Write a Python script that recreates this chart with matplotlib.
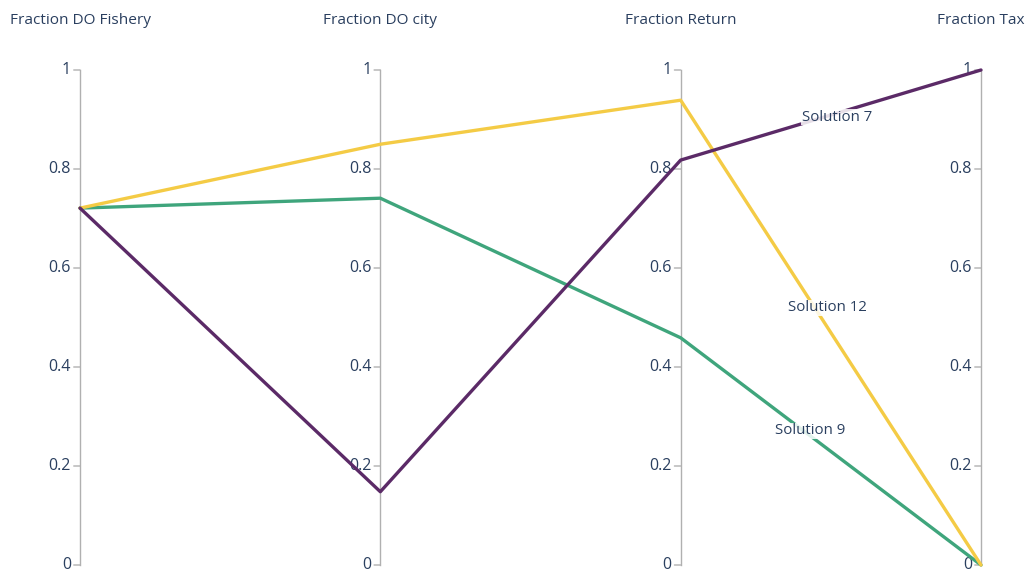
import matplotlib
matplotlib.use("Agg")
import matplotlib.pyplot as plt

dimensions = ["Fraction DO Fishery", "Fraction DO city", "Fraction Return", "Fraction Tax"]
solutions = ["Solution 9", "Solution 12", "Solution 7"]
values = {
    "Solution 9": [0.721, 0.741, 0.459, 0.0],
    "Solution 12": [0.721, 0.850, 0.939, 0.0],
    "Solution 7": [0.721, 0.148, 0.818, 1.0],
}
colors = {"Solution 9": "#3fa57c", "Solution 12": "#f4cb45", "Solution 7": "#5b2a67"}
tick_values = [0, 0.2, 0.4, 0.6, 0.8, 1]
tick_labels = ["0", "0.2", "0.4", "0.6", "0.8", "1"]
# label positions (dimension coordinate, value)
label_pos = {"Solution 7": (2.52, 0.905), "Solution 12": (2.49, 0.520), "Solution 9": (2.43, 0.271)}

W, H = 1032, 571
fig = plt.figure(figsize=(W / 100, H / 100), dpi=100)
x0, x1 = 80, 981
y0, y1 = 565, 70
ax = fig.add_axes([x0 / W, (H - y0) / H, (x1 - x0) / W, (y0 - y1) / H])
ax.set_xlim(0, len(dimensions) - 1)
ax.set_ylim(0, 1)
ax.axis("off")

font = "Open Sans"
txtc = "#2a3f5f"
xs = list(range(len(dimensions)))
for i, d in enumerate(dimensions):
    ax.plot([i, i], [0, 1], color="#b0b0b0", lw=1.0, zorder=1, clip_on=False)
    for tv, tl in zip(tick_values, tick_labels):
        ax.annotate("", xy=(i, tv), xycoords="data", xytext=(-4.5, 0), textcoords="offset points",
                    arrowprops=dict(arrowstyle="-", color="#b0b0b0", lw=1.0, shrinkA=0, shrinkB=0),
                    zorder=1, annotation_clip=False)
        ax.annotate(tl, xy=(i, tv), xytext=(-6.5, 0), textcoords="offset points",
                    ha="right", va="center", fontsize=11.5, color=txtc, family=font,
                    zorder=2, annotation_clip=False)
    fig.text((x0 + i * (x1 - x0) / (len(dimensions) - 1)) / W, 1 - 20 / H, d,
             ha="center", va="center", fontsize=11.1, color=txtc, family=font)

for s in solutions:
    ax.plot(xs, values[s], color=colors[s], lw=2.4, zorder=3, clip_on=False,
            solid_capstyle="round", solid_joinstyle="round")

for s in solutions:
    px, py = label_pos[s]
    ax.text(px, py, s, ha="center", va="center", fontsize=10.8, color=txtc, family=font,
            zorder=5, bbox=dict(facecolor="white", edgecolor="none", pad=0.3, alpha=0.85))

fig.savefig("out.png", dpi=100, facecolor="white")
